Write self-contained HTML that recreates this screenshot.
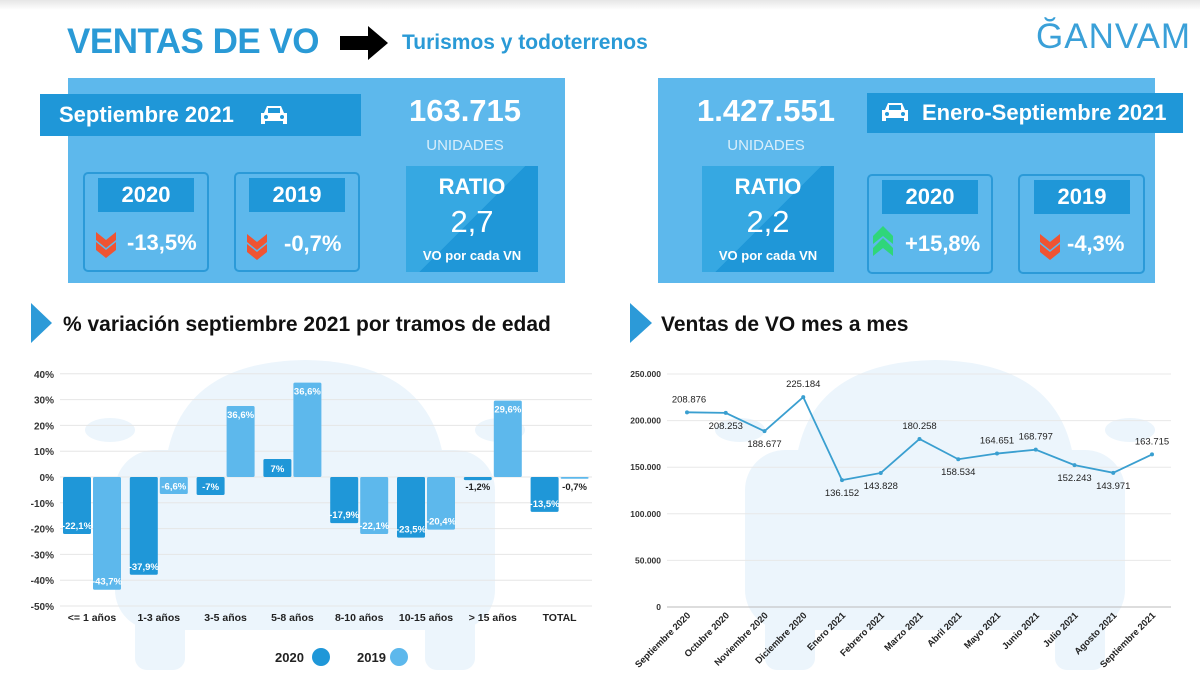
<!DOCTYPE html>
<html><head><meta charset="utf-8">
<style>
*{margin:0;padding:0;box-sizing:border-box}
body{width:1200px;height:681px;background:#fff;font-family:"Liberation Sans",sans-serif;position:relative;overflow:hidden}
.a{position:absolute}
.w{color:#fff;font-weight:bold}
.panel{background:#5db8ec}
.bar{background:#1f97d8}
.box{border:2px solid #2b9ad8;border-radius:5px}
.c{text-align:center}
</style></head><body>
<div class="a" style="left:0;top:0;width:1200px;height:10px;background:linear-gradient(#e6e6e6,#fff)"></div>
<div class="a" style="left:67px;top:22px;font-size:35px;font-weight:bold;color:#2a9ad6;letter-spacing:-0.5px">VENTAS DE VO</div>
<svg class="a" style="left:340px;top:26px" width="50" height="34"><polygon points="0,10 28,10 28,0 48,17 28,34 28,24 0,24" fill="#000"/></svg>
<div class="a" style="left:402px;top:31px;font-size:21px;font-weight:bold;color:#2a9ad6">Turismos y todoterrenos</div>
<div class="a" style="left:1036px;top:17px;font-size:35px;color:#3aa0d8;letter-spacing:1px">ĞANVAM</div>

<!-- left panel -->
<div class="a panel" style="left:68px;top:78px;width:497px;height:205px"></div>
<div class="a bar w" style="left:40px;top:94px;width:321px;height:42px;font-size:22px;line-height:42px;padding-left:19px">Septiembre 2021</div>
<svg class="a" style="left:260px;top:104px" width="28" height="22"><path d="M4 9 L7 2 H21 L24 9 H27 V20 H23 V17 H5 V20 H1 V9 Z" fill="#fff"/><rect x="8" y="4" width="12" height="5" fill="#1f97d8"/><circle cx="6" cy="13" r="2" fill="#1f97d8"/><circle cx="22" cy="13" r="2" fill="#1f97d8"/></svg>
<div class="a w c" style="left:395px;top:93px;width:140px;font-size:31px">163.715</div>
<div class="a c" style="left:395px;top:137px;width:140px;font-size:15px;color:#d8eefb">UNIDADES</div>
<div class="a box" style="left:83px;top:172px;width:126px;height:100px"></div>
<div class="a bar w c" style="left:98px;top:178px;width:96px;height:34px;font-size:22px;line-height:34px">2020</div>
<div class="a w" style="left:127px;top:230px;font-size:22px">-13,5%</div>
<div class="a box" style="left:234px;top:172px;width:126px;height:100px"></div>
<div class="a bar w c" style="left:249px;top:178px;width:96px;height:34px;font-size:22px;line-height:34px">2019</div>
<div class="a w" style="left:284px;top:231px;font-size:22px">-0,7%</div>
<div class="a" style="left:406px;top:166px;width:132px;height:106px;background:linear-gradient(135deg,#36a8e2 50%,#1f97d8 50%)"></div>
<div class="a w c" style="left:406px;top:174px;width:132px;font-size:22px">RATIO</div>
<div class="a c" style="left:406px;top:204px;width:132px;font-size:31px;color:#fff">2,7</div>
<div class="a w c" style="left:406px;top:248px;width:132px;font-size:13px">VO por cada VN</div>

<!-- right panel -->
<div class="a panel" style="left:658px;top:78px;width:497px;height:205px"></div>
<div class="a bar w" style="left:867px;top:93px;width:316px;height:40px;font-size:22px;line-height:40px;padding-left:55px">Enero-Septiembre 2021</div>
<svg class="a" style="left:881px;top:101px" width="28" height="22"><path d="M4 9 L7 2 H21 L24 9 H27 V20 H23 V17 H5 V20 H1 V9 Z" fill="#fff"/><rect x="8" y="4" width="12" height="5" fill="#1f97d8"/><circle cx="6" cy="13" r="2" fill="#1f97d8"/><circle cx="22" cy="13" r="2" fill="#1f97d8"/></svg>
<div class="a w c" style="left:686px;top:93px;width:160px;font-size:31px">1.427.551</div>
<div class="a c" style="left:696px;top:137px;width:140px;font-size:15px;color:#d8eefb">UNIDADES</div>
<div class="a" style="left:702px;top:166px;width:132px;height:106px;background:linear-gradient(135deg,#36a8e2 50%,#1f97d8 50%)"></div>
<div class="a w c" style="left:702px;top:174px;width:132px;font-size:22px">RATIO</div>
<div class="a c" style="left:702px;top:204px;width:132px;font-size:31px;color:#fff">2,2</div>
<div class="a w c" style="left:702px;top:248px;width:132px;font-size:13px">VO por cada VN</div>
<div class="a box" style="left:867px;top:174px;width:126px;height:100px"></div>
<div class="a bar w c" style="left:882px;top:180px;width:96px;height:34px;font-size:22px;line-height:34px">2020</div>
<div class="a w" style="left:905px;top:231px;font-size:22px">+15,8%</div>
<div class="a box" style="left:1018px;top:174px;width:127px;height:100px"></div>
<div class="a bar w c" style="left:1034px;top:180px;width:96px;height:34px;font-size:22px;line-height:34px">2019</div>
<div class="a w" style="left:1067px;top:231px;font-size:22px">-4,3%</div>

<svg class="a" style="left:0;top:0" width="1200" height="300">
<g fill="#ef5433">
<polygon points="96,232 106,240 116,232 116,240 106,248 96,240"/><polygon points="96,242 106,250 116,242 116,250 106,258 96,250"/>
<polygon points="247,234 257,242 267,234 267,242 257,250 247,242"/><polygon points="247,244 257,252 267,244 267,252 257,260 247,252"/>
<polygon points="1040,234 1050,242 1060,234 1060,242 1050,250 1040,242"/><polygon points="1040,244 1050,252 1060,244 1060,252 1050,260 1040,252"/>
</g>
<g fill="#2fd67a">
<polygon points="873,236 883,226 893,236 893,244 883,236 873,244"/><polygon points="873,248 883,238 893,248 893,256 883,248 873,256"/>
</g>
</svg>

<svg class="a" style="left:0;top:295px" width="1200" height="55">
<polygon points="31,8 52,28 31,48" fill="#2c9ad8"/>
<polygon points="630,8 652,28 630,48" fill="#2c9ad8"/>
</svg>
<div class="a" style="left:63px;top:313px;font-size:21px;font-weight:bold;color:#111">% variación septiembre 2021 por tramos de edad</div>
<div class="a" style="left:661px;top:313px;font-size:21px;font-weight:bold;color:#111">Ventas de VO mes a mes</div>

<svg class="a" id="charts" style="left:0;top:0" width="1200" height="681"></svg>

<script>
const barCats=["<= 1 años","1-3 años","3-5 años","5-8 años","8-10 años","10-15 años","> 15 años","TOTAL"];
const s2020=[-22.1,-37.9,-7,7,-17.9,-23.5,-1.2,-13.5];
const s2019=[-43.7,-6.6,27.5,36.6,-22.1,-20.4,29.6,-0.7];
const lab2020=["-22,1%","-37,9%","-7%","7%","-17,9%","-23,5%","-1,2%","-13,5%"];
const lab2019=["-43,7%","-6,6%","36,6%","36,6%","-22,1%","-20,4%","29,6%","-0,7%"];
const barTicks=[40,30,20,10,0,-10,-20,-30,-40,-50];
const months=["Septiembre 2020","Octubre 2020","Noviembre 2020","Diciembre 2020","Enero 2021","Febrero 2021","Marzo 2021","Abril 2021","Mayo 2021","Junio 2021","Julio 2021","Agosto 2021","Septiembre 2021"];
const sales=[208876,208253,188677,225184,136152,143828,180258,158534,164651,168797,152243,143971,163715];
const lineTicks=[250000,200000,150000,100000,50000,0];
const labelAbove=[1,0,0,1,0,0,1,0,1,1,0,0,1];

const NS="http://www.w3.org/2000/svg";
const svg=document.getElementById('charts');
function mk(t,a,p){const e=document.createElementNS(NS,t);for(const k in a)e.setAttribute(k,a[k]);(p||svg).appendChild(e);return e;}
function fmt(v){return v.toString().replace(/\B(?=(\d{3})+(?!\d))/g,'.');}

// car silhouettes
function car(x0){
  const g=mk('g',{fill:'#ecf5fc'});
  
  
  mk('path',{d:`M${x0+50} 470 Q${x0+60} 362 ${x0+190} 360 Q${x0+320} 362 ${x0+330} 470 Z`},g);
  mk('rect',{x:x0,y:450,width:380,height:180,rx:40},g);
  mk('rect',{x:x0+20,y:600,width:50,height:70,rx:12},g);
  mk('rect',{x:x0+310,y:600,width:50,height:70,rx:12},g);
  mk('ellipse',{cx:x0-5,cy:430,rx:25,ry:12},g);
  mk('ellipse',{cx:x0+385,cy:430,rx:25,ry:12},g);
}
car(115); car(745);

// bar chart
const yB=v=>477-v*2.58;
const cx=i=>92+i*66.8;
barTicks.forEach(t=>{
  const l=mk('line',{x1:60,x2:592,y1:yB(t),y2:yB(t),stroke:'#e6e6e6','stroke-width':1});
  
  
  const tx=mk('text',{x:54,y:yB(t)+4,'text-anchor':'end','font-size':10,'font-weight':'bold',fill:'#333'});
  tx.textContent=t+'%';
  
  
});
function drawBar(i,v,lbl,off,color,ser){
  const x=cx(i)+off, y0=yB(0), y1=yB(v);
  const r=mk('rect',{x:x,y:Math.min(y0,y1),width:28,height:Math.max(Math.abs(y1-y0),1.5),fill:color,rx:1.5});
  
  
  const small=Math.abs(v)<5;
  let ty=v>=0?y1+12:y1-5;
  if(small) ty=v>=0?y1-4:y0+13;
  if(!small && Math.abs(y1-y0)<20) ty=(y0+y1)/2+4;
  const t=mk('text',{x:x+14,y:ty,'text-anchor':'middle','font-size':9.5,'font-weight':'bold',fill:small?'#222':'#fff'});
  t.textContent=lbl;
  
  
}
barCats.forEach((c,i)=>{
  drawBar(i,s2020[i],lab2020[i],-29,'#1f97d8','2020');
  drawBar(i,s2019[i],lab2019[i],1,'#5db8ec','2019');
  const t=mk('text',{x:cx(i),y:621,'text-anchor':'middle','font-size':10.5,'font-weight':'bold',fill:'#222'});
  t.textContent=c;
  
  
});
// legend
[[275,'2020','#1f97d8',321],[357,'2019','#5db8ec',399]].forEach(([x,s,c,ccx])=>{
  const t=mk('text',{x:x,y:662,'font-size':13,'font-weight':'bold',fill:'#222'});t.textContent=s;
  
  
  const ci=mk('circle',{cx:ccx,cy:657,r:9,fill:c});
  
  
});

// line chart
const yL=v=>607-v*(233/250000);
const xL=i=>687+i*38.75;
lineTicks.forEach(t=>{
  const l=mk('line',{x1:667,x2:1171,y1:yL(t),y2:yL(t),stroke:t===0?'#bbb':'#e8e8e8','stroke-width':1});
  
  
  const tx=mk('text',{x:661,y:yL(t)+3,'text-anchor':'end','font-size':8.5,'font-weight':'bold',fill:'#333'});
  tx.textContent=fmt(t);
  
  
});
const pts=sales.map((v,i)=>xL(i)+','+yL(v)).join(' ');
const pl=mk('polyline',{points:pts,fill:'none',stroke:'#3a9fd0','stroke-width':1.8});


sales.forEach((v,i)=>{
  const c=mk('circle',{cx:xL(i),cy:yL(v),r:2,fill:'#3a9fd0'});
  
  
  const t=mk('text',{x:xL(i)+(i===0?2:0),y:labelAbove[i]?yL(v)-10:yL(v)+16,'text-anchor':'middle','font-size':9.5,fill:'#222'});
  t.textContent=fmt(v);
  
  
  const m=mk('text',{x:xL(i)+4,y:616,'text-anchor':'end','font-size':9.3,'font-weight':'bold',fill:'#222',transform:`rotate(-45 ${xL(i)+4} 616)`});
  m.textContent=months[i];
  
  
});
</script>
</body></html>
